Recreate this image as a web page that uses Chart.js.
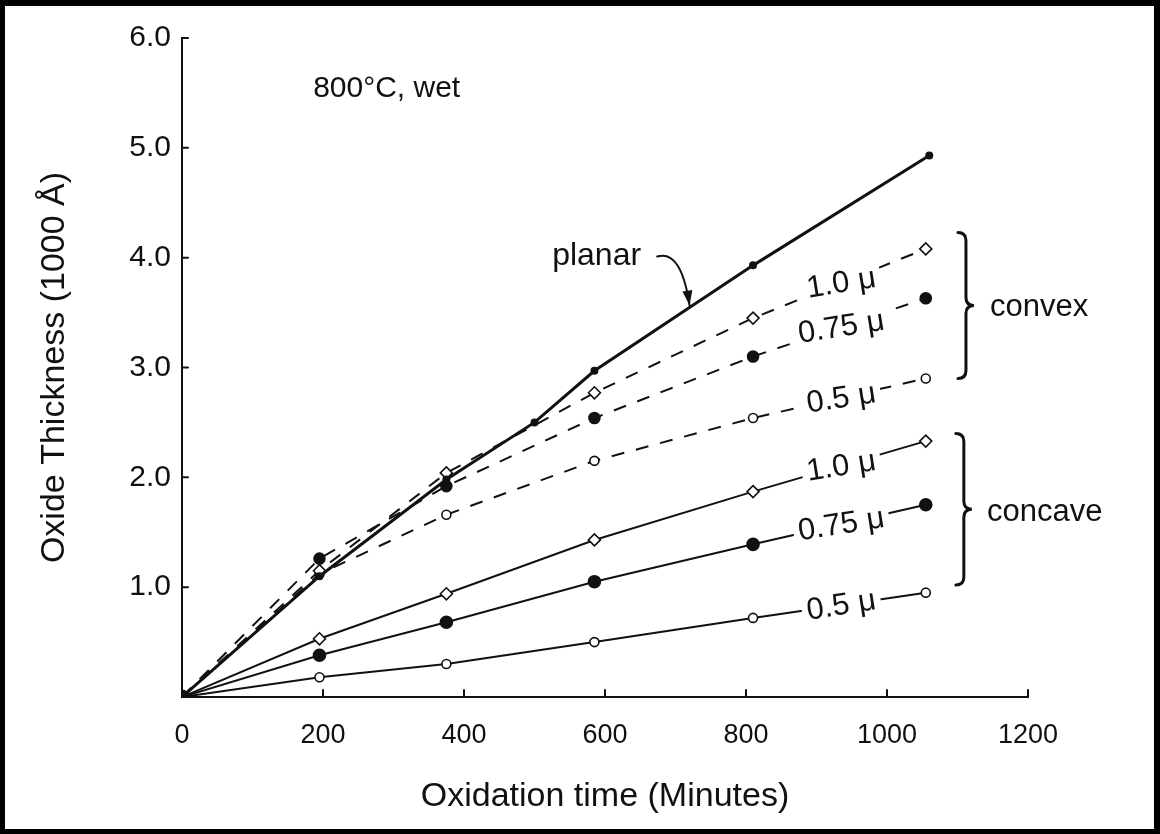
<!DOCTYPE html>
<html>
<head>
<meta charset="utf-8">
<script src="https://cdn.jsdelivr.net/npm/chart.js@4.4.1/dist/chart.umd.min.js"></script>
<style>
  html, body { margin: 0; padding: 0; background: #fff; }
  #wrap { width: 1160px; height: 834px; }
</style>
</head>
<body>
<div id="wrap"><canvas id="chart" width="1160" height="834"></canvas></div>
<script>
// Oxidation times (minutes) at which the samples were measured
const times = [0, 195, 375, 585, 810, 1055];
const planarTimes = [0, 195, 375, 500, 585, 810, 1060];

// Oxide thickness (1000 Å)
const planar     = [0, 1.10, 1.98, 2.50, 2.97, 3.93, 4.93];
const convex10   = [0, 1.15, 2.04, 2.77, 3.45, 4.08];
const convex075  = [0, 1.26, 1.92, 2.54, 3.10, 3.63];
const convex05   = [0, 1.12, 1.66, 2.15, 2.54, 2.90];
const concave10  = [0, 0.53, 0.94, 1.43, 1.87, 2.33];
const concave075 = [0, 0.38, 0.68, 1.05, 1.39, 1.75];
const concave05  = [0, 0.18, 0.30, 0.50, 0.72, 0.95];

// Axis ticks
const xTicks = [0, 200, 400, 600, 800, 1000, 1200];
const yTicks = [0, 1, 2, 3, 4, 5, 6];

// Curve labels
const curveLabels = ['1.0 μ', '0.75 μ', '0.5 μ', '1.0 μ', '0.75 μ', '0.5 μ'];
const groupLabels = ['convex', 'concave'];
const conditionText = '800°C, wet';
const planarText = 'planar';

const FONT = "'Liberation Sans', Arial, Helvetica, sans-serif";
const INK = '#111';

const pts = (xs, ys) => ys.map((v, i) => ({ x: xs[i], y: v }));

function series(label, xs, ys, style, dashed, radius, filled, text) {
  return {
    label,
    data: pts(xs, ys),
    showLine: true,
    borderColor: INK,
    borderWidth: 2,
    borderDash: dashed ? [13, 12] : [],
    pointStyle: style,
    pointRadius: c => (c.dataIndex === 0 ? 0 : radius),
    pointBorderWidth: 1.6,
    pointBorderColor: INK,
    pointBackgroundColor: filled ? INK : '#fff',
    tension: 0,
    curveText: text
  };
}

const datasets = [
  {
    label: 'planar',
    data: pts(planarTimes, planar),
    showLine: true,
    borderColor: INK,
    borderWidth: 3,
    pointRadius: c => (c.dataIndex === 0 ? 6 : 2.5),
    pointBackgroundColor: INK,
    pointBorderColor: INK,
    tension: 0
  },
  series('convex 1.0', times, convex10, 'rectRot', true, 6, false, curveLabels[0]),
  series('convex 0.75', times, convex075, 'circle', true, 5.5, true, curveLabels[1]),
  series('convex 0.5', times, convex05, 'circle', true, 4.5, false, curveLabels[2]),
  series('concave 1.0', times, concave10, 'rectRot', false, 6, false, curveLabels[3]),
  series('concave 0.75', times, concave075, 'circle', false, 6, true, curveLabels[4]),
  series('concave 0.5', times, concave05, 'circle', false, 4.5, false, curveLabels[5])
];

// value of a polyline at time t
function valueAt(xs, ys, t) {
  for (let i = 1; i < xs.length; i++) {
    if (t <= xs[i]) {
      const f = (t - xs[i - 1]) / (xs[i] - xs[i - 1]);
      return ys[i - 1] + f * (ys[i] - ys[i - 1]);
    }
  }
  return ys[ys.length - 1];
}

function drawBrace(ctx, x, yTop, yBot, w) {
  const ym = (yTop + yBot) / 2;
  ctx.beginPath();
  ctx.moveTo(x - w, yTop);
  ctx.quadraticCurveTo(x, yTop, x, yTop + w);
  ctx.lineTo(x, ym - w);
  ctx.quadraticCurveTo(x, ym, x + w, ym);
  ctx.quadraticCurveTo(x, ym, x, ym + w);
  ctx.lineTo(x, yBot - w);
  ctx.quadraticCurveTo(x, yBot, x - w, yBot);
  ctx.stroke();
}

const decorations = {
  id: 'decorations',
  afterDatasetsDraw(chart) {
    const { ctx, scales: { x, y }, chartArea } = chart;
    const px = v => x.getPixelForValue(v);
    const py = v => y.getPixelForValue(v);
    ctx.save();
    ctx.strokeStyle = INK;
    ctx.fillStyle = INK;
    ctx.lineCap = 'round';

    // inward tick marks
    ctx.lineWidth = 2;
    xTicks.forEach(t => {
      ctx.beginPath();
      ctx.moveTo(px(t), chartArea.bottom);
      ctx.lineTo(px(t), chartArea.bottom - 7);
      ctx.stroke();
    });
    yTicks.forEach(v => {
      ctx.beginPath();
      ctx.moveTo(chartArea.left, py(v));
      ctx.lineTo(chartArea.left + 6, py(v));
      ctx.stroke();
    });

    // curve labels set into gaps of their lines
    const labelT = 935;
    const ang = -9 * Math.PI / 180;
    ctx.font = `31px ${FONT}`;
    ctx.textAlign = 'center';
    ctx.textBaseline = 'middle';
    const raw = [convex10, convex075, convex05, concave10, concave075, concave05];
    raw.forEach((ys, i) => {
      const cx = px(labelT);
      const cy = py(valueAt(times, ys, labelT));
      const w = ctx.measureText(curveLabels[i]).width + 10;
      ctx.save();
      ctx.translate(cx, cy);
      ctx.rotate(ang);
      ctx.fillStyle = '#fff';
      ctx.fillRect(-w / 2, -14, w, 28);
      ctx.fillStyle = INK;
      ctx.fillText(curveLabels[i], 0, 1);
      ctx.restore();
    });

    // braces and group names
    ctx.lineWidth = 3;
    drawBrace(ctx, px(1112), py(4.23), py(2.90), 8);
    drawBrace(ctx, px(1109), py(2.40), py(1.02), 8);
    ctx.textAlign = 'left';
    ctx.font = `31px ${FONT}`;
    ctx.fillText(groupLabels[0], px(1146), py(3.55));
    ctx.fillText(groupLabels[1], px(1142), py(1.68));

    // condition note
    ctx.textBaseline = 'alphabetic';
    ctx.font = `30px ${FONT}`;
    ctx.fillText(conditionText, px(186), py(5.46));

    // planar label with arrow
    ctx.font = `32px ${FONT}`;
    ctx.fillText(planarText, px(525), py(3.93));
    const sx = px(674), sy = py(4.01);
    const cxp = px(708), cyp = py(4.08);
    const tt = 720;
    const tx = px(tt), ty = py(valueAt(planarTimes, planar, tt)) - 2;
    ctx.lineWidth = 2;
    ctx.beginPath();
    ctx.moveTo(sx, sy);
    ctx.quadraticCurveTo(cxp, cyp, tx, ty);
    ctx.stroke();
    const a = Math.atan2(ty - cyp, tx - cxp);
    ctx.beginPath();
    ctx.moveTo(tx, ty);
    ctx.lineTo(tx - 15 * Math.cos(a) + 5 * Math.sin(a), ty - 15 * Math.sin(a) - 5 * Math.cos(a));
    ctx.lineTo(tx - 15 * Math.cos(a) - 5 * Math.sin(a), ty - 15 * Math.sin(a) + 5 * Math.cos(a));
    ctx.closePath();
    ctx.fill();
    ctx.restore();
  },
  afterDraw(chart) {
    // picture frame
    const { ctx, width, height } = chart;
    ctx.save();
    ctx.fillStyle = '#000';
    ctx.fillRect(0, 0, width, 6);
    ctx.fillRect(0, 0, 5, height);
    ctx.fillRect(width - 6, 0, 6, height);
    ctx.fillRect(0, height - 5, width, 5);
    ctx.restore();
  }
};

new Chart(document.getElementById('chart'), {
  type: 'scatter',
  data: { datasets },
  options: {
    responsive: false,
    animation: false,
    events: [],
    layout: { padding: { left: 0, top: 38, right: 132, bottom: 0 } },
    plugins: { legend: { display: false }, tooltip: { enabled: false } },
    scales: {
      x: {
        type: 'linear',
        min: 0,
        max: 1200,
        afterFit: s => { s.height = 137; },
        afterBuildTicks: s => { s.ticks = xTicks.map(v => ({ value: v })); },
        grid: { display: false },
        border: { display: true, color: INK, width: 2 },
        ticks: {
          color: INK,
          padding: 14,
          font: { family: FONT, size: 27 },
          callback: v => String(v)
        },
        title: {
          display: true,
          text: 'Oxidation time (Minutes)',
          color: INK,
          font: { family: FONT, size: 34 },
          padding: { top: 0, bottom: 17 }
        }
      },
      y: {
        type: 'linear',
        min: 0,
        max: 6,
        afterFit: s => { s.width = 182; },
        afterBuildTicks: s => { s.ticks = yTicks.map(v => ({ value: v })); },
        grid: { display: false },
        border: { display: true, color: INK, width: 2 },
        ticks: {
          color: INK,
          padding: 3,
          font: { family: FONT, size: 30 },
          callback: v => (v === 0 ? '' : Number(v).toFixed(1))
        },
        title: {
          display: true,
          text: 'Oxide Thickness (1000 Å)',
          color: INK,
          font: { family: FONT, size: 34 },
          padding: { top: 34, bottom: 0 }
        }
      }
    }
  },
  plugins: [decorations]
});
</script>
</body>
</html>
